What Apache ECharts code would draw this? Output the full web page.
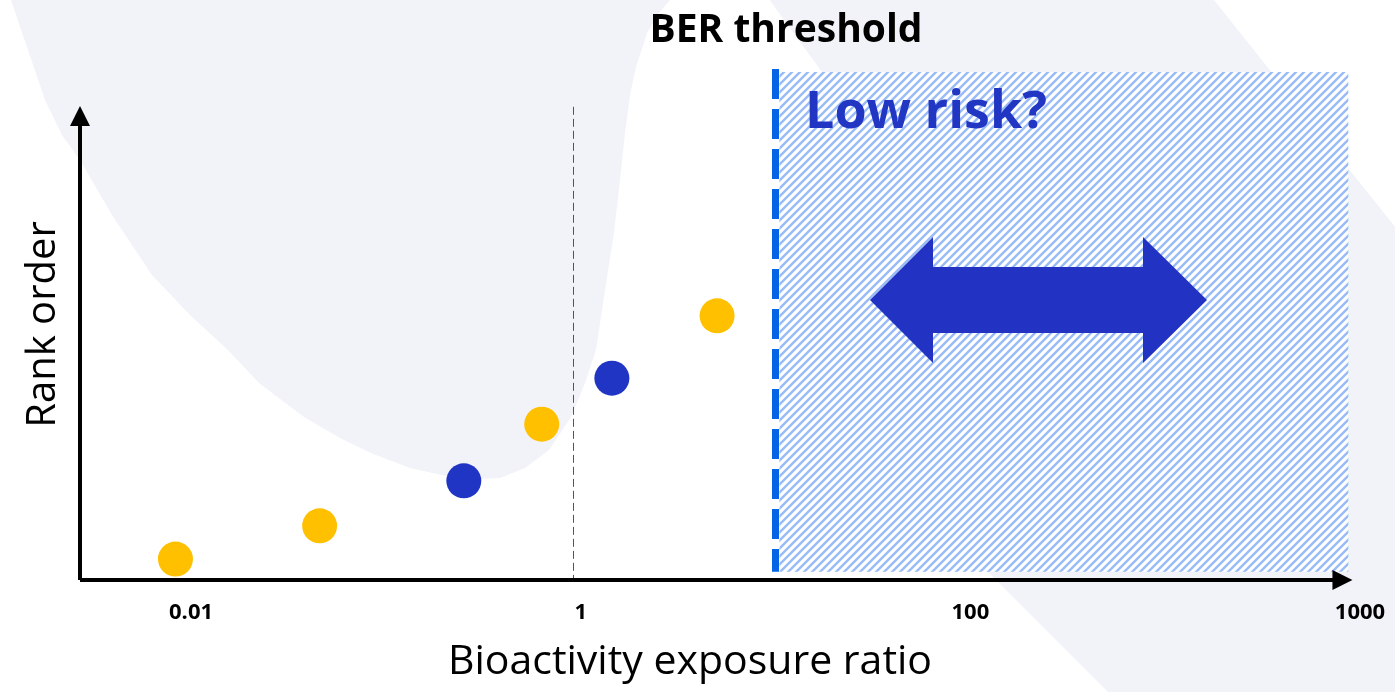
<!DOCTYPE html>
<html><head><meta charset="utf-8">
<script src="https://cdn.jsdelivr.net/npm/echarts@6/dist/echarts.min.js"></script>
<style>html,body{margin:0;padding:0;background:#fff}#c{width:1395px;height:692px}</style>
</head><body><div id="c"></div>
<script>
// ---- data (schematic x positions: 0 = "0.01", 1 = "1", 2 = "100", 3 = "1000") ----
const tickLabels = ['0.01', '1', '100', '1000'];
const tickPos = [0, 1, 2, 3];
const xPos = [-0.04, 0.33, 0.70, 0.90, 1.08, 1.35];
const rank = [0.41, 1.06, 1.94, 3.05, 3.95, 5.17];
const group = ['yellow', 'yellow', 'blue', 'yellow', 'blue', 'yellow'];
const unityLine = 0.98;      // BER = 1 guide
const berThreshold = 1.5;    // BER threshold
const lowRiskEnd = 2.97;     // end of hatched "low risk" zone

const X_MIN = -0.285, X_MAX = 3, Y_MIN = 0, Y_MAX = 10;

const yellowData = [], blueData = [];
xPos.forEach((x, i) => (group[i] === 'yellow' ? yellowData : blueData).push([x, rank[i]]));

// hatch pattern
const pc = document.createElement('canvas'); pc.width = 8; pc.height = 8;
const g = pc.getContext('2d');
g.fillStyle = '#ffffff'; g.fillRect(0, 0, 8, 8);
g.strokeStyle = '#99bbf7'; g.lineWidth = 2.4;
g.beginPath();
g.moveTo(-1, 9); g.lineTo(9, -1);
g.moveTo(-1, 1); g.lineTo(1, -1);
g.moveTo(7, 9); g.lineTo(9, 7);
g.stroke();

const bgLeft = [[11,-5],[11,0],[28,50],[45,100],[62,135],[80,160],[112,215],[152,275],[190,315],[228,350],[259,383],[304,417],[340,438],[371,453],[410,468],[446,476],[475,479],[500,478],[525,468],[549,450],[571,417],[585,383],[596,350],[605,290],[614,233],[620,180],[625,133],[630,95],[636,67],[647,33],[658,14],[670,0],[672,-5]];
const bgRight = [[766,-5],[822,72],[988,572],[1108,692],[1400,692],[1400,233],[1210,-5]];
const arrowPts = [[870,300],[933,237],[933,267],[1143,267],[1143,237],[1207,300],[1143,363],[1143,333],[933,333],[933,363]];

const chart = echarts.init(document.getElementById('c'), null, {renderer: 'canvas'});
chart.setOption({
  animation: false,
  backgroundColor: '#ffffff',
  grid: {left: 80, right: 35, top: 69, bottom: 112},
  xAxis: {
    type: 'value', min: X_MIN, max: X_MAX,
    axisLine: {show: false}, axisTick: {show: false}, splitLine: {show: false},
    axisLabel: {
      customValues: tickPos,
      formatter: v => tickLabels[Math.round(v)],
      fontFamily: 'Open Sans', fontWeight: 'bold', fontSize: 22, color: '#000', margin: 22
    },
    name: 'Bioactivity exposure ratio', nameLocation: 'middle', nameGap: 62,
    nameTextStyle: {fontFamily: 'Open Sans', fontSize: 41, color: '#000', padding: [0, 60, 0, 0]}
  },
  yAxis: {
    type: 'value', min: Y_MIN, max: Y_MAX,
    axisLine: {show: false}, axisTick: {show: false}, splitLine: {show: false}, axisLabel: {show: false},
    name: 'Rank order', nameLocation: 'middle', nameGap: 16, nameRotate: 90,
    nameTextStyle: {fontFamily: 'Open Sans', fontSize: 40, color: '#000'}
  },
  graphic: [
    {type: 'polygon', z: -10, silent: true, shape: {points: bgLeft}, style: {fill: '#f2f3f9'}},
    {type: 'polygon', z: -10, silent: true, shape: {points: bgRight}, style: {fill: '#f2f3f9'}},
    {type: 'text', z: 100, x: 786, y: 31, style: {text: 'BER threshold', font: 'bold 39px "Open Sans"', fill: '#000',
      textAlign: 'center', textVerticalAlign: 'middle', align: 'center', verticalAlign: 'middle'}},
    {type: 'text', z: 100, x: 805, y: 113, style: {text: 'Low risk?', font: 'bold 52px "Open Sans"', fill: '#2236c4',
      textAlign: 'left', textVerticalAlign: 'middle', align: 'left', verticalAlign: 'middle'}},
    {type: 'polygon', z: 100, silent: true, shape: {points: arrowPts}, style: {fill: '#2233c4'}}
  ],
  series: [
    {
      type: 'scatter', name: 'Chemical A', data: yellowData, symbolSize: 35, clip: false,
      itemStyle: {color: '#ffc000', opacity: 1},
      markArea: {
        silent: true,
        itemStyle: {color: {image: pc, repeat: 'repeat'}},
        data: [[{coord: [berThreshold + 0.01, 0.16]}, {coord: [lowRiskEnd, 9.94]}]]
      },
      markLine: {
        silent: true, symbol: ['none', 'none'], label: {show: false},
        data: [
          [{coord: [unityLine, 9.26], lineStyle: {color: '#555', width: 1, type: [8, 4]}}, {coord: [unityLine, 0]}],
          [{coord: [berThreshold, 10], lineStyle: {color: '#0563e6', width: 7, type: [30, 10]}}, {coord: [berThreshold, 0.16]}]
        ]
      }
    },
    {
      type: 'scatter', name: 'Chemical B', data: blueData, symbolSize: 35, clip: false,
      itemStyle: {color: '#2135c5', opacity: 1},
      markLine: {
        silent: true, symbol: ['none', 'triangle'], symbolSize: 20, label: {show: false},
        lineStyle: {color: '#000', width: 4, type: 'solid'},
        data: [
          [{coord: [X_MIN, 0]}, {coord: [2.955, 0]}],
          [{coord: [X_MIN, 0]}, {coord: [X_MIN, 9.08]}]
        ]
      }
    }
  ]
});
</script></body></html>
